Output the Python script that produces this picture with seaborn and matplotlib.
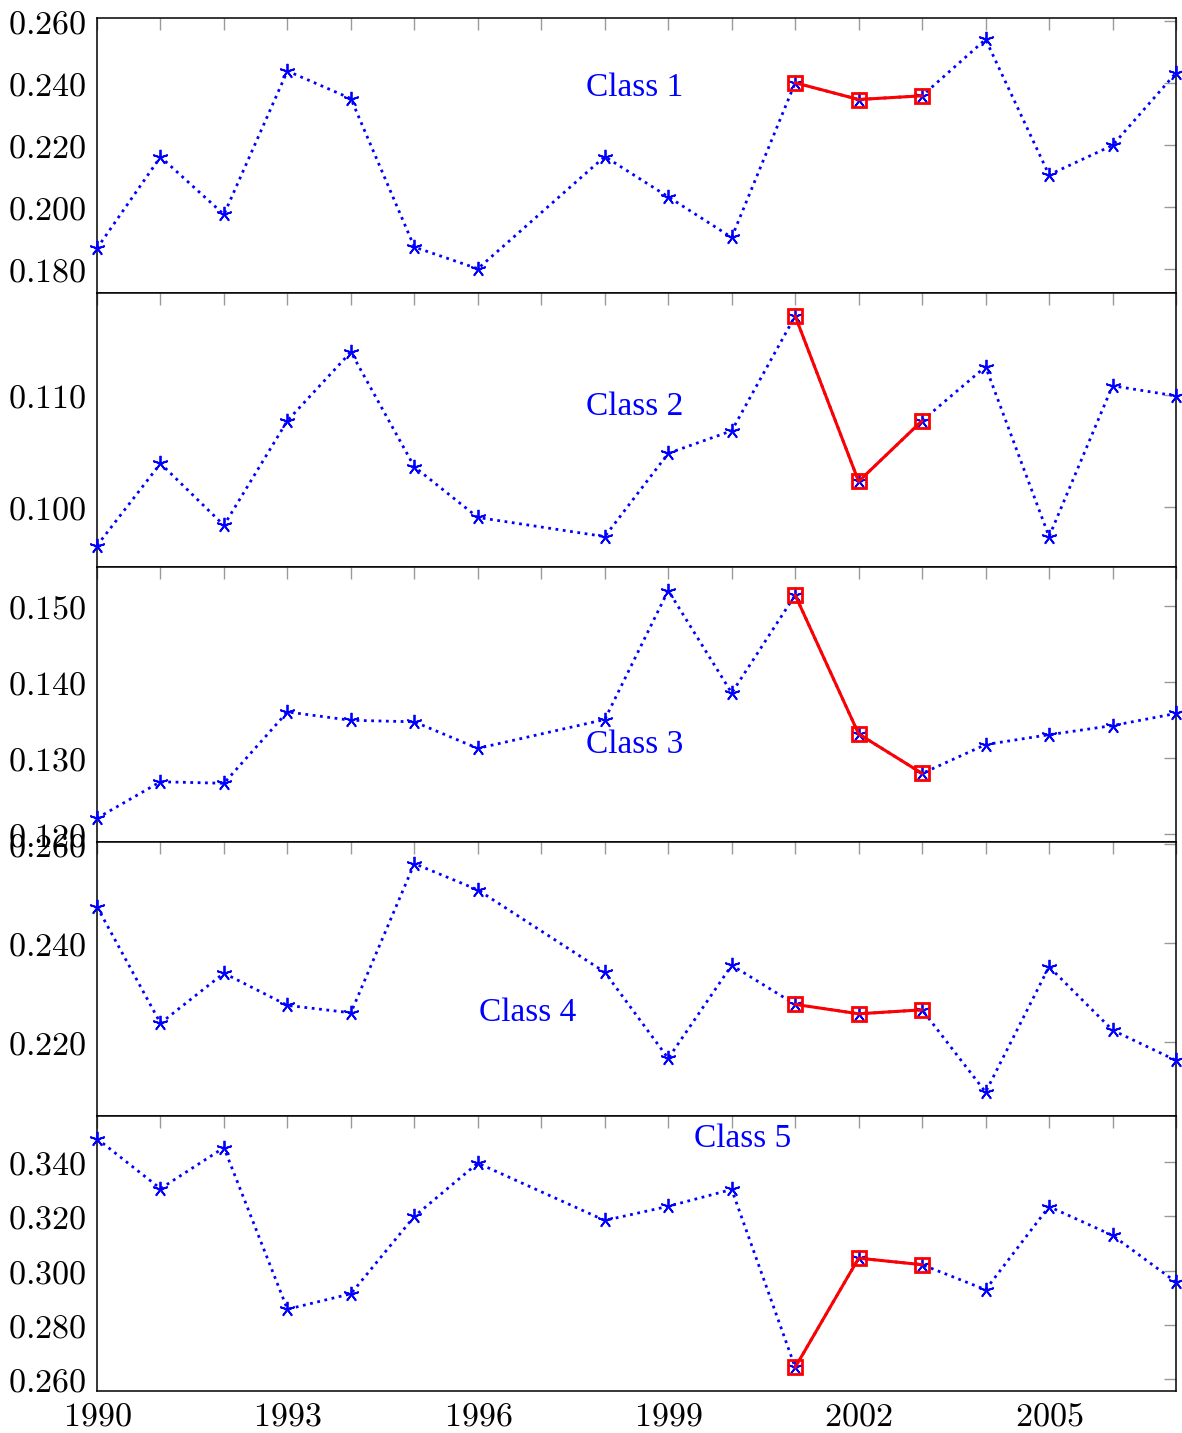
import numpy as np
import pandas as pd
import matplotlib
matplotlib.use("Agg")
import matplotlib.pyplot as plt
import seaborn as sns

# ---------------- data ----------------
years = [1990, 1991, 1992, 1993, 1994, 1995, 1996, 1998, 1999, 2000,
         2001, 2002, 2003, 2004, 2005, 2006, 2007]
highlight_years = [2001, 2002, 2003]

class1 = [0.1866, 0.2161, 0.1975, 0.2438, 0.2349, 0.1870, 0.1800, 0.2162, 0.2032, 0.1901,
          0.2400, 0.2346, 0.2358, 0.2540, 0.2103, 0.2198, 0.2432]
class2 = [0.0966, 0.1039, 0.0984, 0.1077, 0.1138, 0.1036, 0.0991, 0.0974, 0.1048, 0.1068,
          0.1170, 0.1023, 0.1077, 0.1125, 0.0974, 0.1108, 0.1099]
class3 = [0.1221, 0.1269, 0.1267, 0.1361, 0.1350, 0.1348, 0.1313, 0.1351, 0.1521, 0.1386,
          0.1515, 0.1332, 0.1280, 0.1318, 0.1331, 0.1343, 0.1359]
class4 = [0.2473, 0.2238, 0.2339, 0.2274, 0.2259, 0.2560, 0.2507, 0.2341, 0.2167, 0.2355,
          0.2276, 0.2257, 0.2265, 0.2099, 0.2352, 0.2224, 0.2163]
class5 = [0.3486, 0.3302, 0.3453, 0.2858, 0.2915, 0.3200, 0.3396, 0.3185, 0.3237, 0.3299,
          0.2644, 0.3046, 0.3022, 0.2930, 0.3236, 0.3130, 0.2958]

class_names = ["Class 1", "Class 2", "Class 3", "Class 4", "Class 5"]
series = [class1, class2, class3, class4, class5]

y_ticks = [
    [0.180, 0.200, 0.220, 0.240, 0.260],
    [0.100, 0.110],
    [0.120, 0.130, 0.140, 0.150],
    [0.220, 0.240, 0.260],
    [0.260, 0.280, 0.300, 0.320, 0.340],
]
y_limits = [
    (0.1723, 0.2609),
    (0.09468, 0.11908),
    (0.11899, 0.15517),
    (0.2050, 0.2604),
    (0.2557, 0.3568),
]
label_pos = [
    (1998.47, 0.2385),
    (1998.47, 0.1089),
    (1998.47, 0.13175),
    (1996.79, 0.2260),
    (2000.17, 0.3487),
]
x_label_years = [1990, 1993, 1996, 1999, 2002, 2005]

# ---------------- style ----------------
sns.set_style("white")
plt.rcParams["mathtext.fontset"] = "cm"
plt.rcParams["font.family"] = ["DejaVu Serif"]

fig = plt.figure(figsize=(11.82, 14.33), dpi=100)
left, right = 97 / 1182, 1176 / 1182
top, bottom = 1 - 18 / 1433, 1 - 1391 / 1433
h = (top - bottom) / 5

BLUE = "#0000FF"
RED = "#FF0000"
TICKC = "#9a9a9a"

for i, (name, vals) in enumerate(zip(class_names, series)):
    ax = fig.add_axes([left, top - (i + 1) * h, right - left, h])
    df = pd.DataFrame({"year": years, "value": vals})
    dfr = df[df["year"].isin(highlight_years)]

    sns.lineplot(data=df, x="year", y="value", ax=ax, color=BLUE,
                 linestyle=":", linewidth=2.0, marker=(5, 2, 0),
                 markersize=11, markeredgewidth=1.3, markeredgecolor=BLUE,
                 clip_on=False, zorder=3)
    sns.lineplot(data=dfr, x="year", y="value", ax=ax, color=RED,
                 linestyle="-", linewidth=2.2, marker="s",
                 markersize=9.5, markeredgewidth=2.0, markeredgecolor=RED,
                 markerfacecolor="none", clip_on=False, zorder=4)

    ax.set_xlim(1990, 2007)
    ax.set_ylim(*y_limits[i])
    ax.set_xlabel("")
    ax.set_ylabel("")

    ax.set_xticks(list(range(1990, 2008)))
    if i == 4:
        ax.set_xticklabels([f"${y}$" if y in x_label_years else "" for y in range(1990, 2008)])
    else:
        ax.set_xticklabels([])
    ax.set_yticks(y_ticks[i])
    ax.set_yticklabels([f"${t:.3f}$" for t in y_ticks[i]])

    ax.tick_params(axis="both", which="both", direction="in", length=8.5, width=1.0,
                   color=TICKC, top=True, right=True, labelsize=24.5, labelcolor="black")
    ax.tick_params(axis="y", pad=8)
    ax.tick_params(axis="x", pad=7)

    for sp in ax.spines.values():
        sp.set_color("black")
        sp.set_linewidth(1.1)
        sp.set_visible(True)

    ax.text(label_pos[i][0], label_pos[i][1], name, color=BLUE, fontsize=24,
            family=["Liberation Serif"], ha="center", va="center", zorder=5)
    ax.grid(False)

fig.savefig("out.png", dpi=100)
